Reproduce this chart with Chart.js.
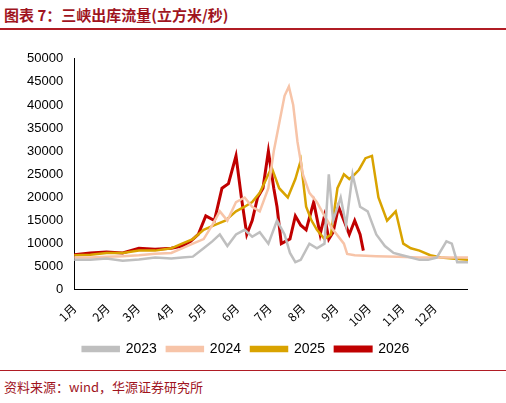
<!DOCTYPE html>
<html><head><meta charset="utf-8">
<script src="https://cdn.jsdelivr.net/npm/chart.js@4"></script>
<style>
body{margin:0;width:506px;height:403px;background:#fff;font-family:"Noto Sans CJK SC",sans-serif;position:relative;overflow:hidden}
#title{position:absolute;left:4px;top:4px;font-size:15px;font-weight:bold;color:#a0141e}
#tl{position:absolute;left:0;top:28px;width:506px;height:2px;background:#b01c24}
#bl{position:absolute;left:0;top:370px;width:506px;height:1px;background:#b01c24}
#src{position:absolute;left:4px;top:377px;font-size:13px;color:#a0141e}
#wrap{position:absolute;left:24px;top:48px;width:444px;height:318px}
</style></head><body>
<div id="title">图表 7：三峡出库流量(立方米/秒)</div><div id="tl"></div>
<div id="wrap"><canvas id="c"></canvas></div>
<div id="bl"></div><div id="src">资料来源：wind，华源证券研究所</div>
<script>
const monthLabels=["1月","2月","3月","4月","5月","6月","7月","8月","9月","10月","11月","12月"];
const monthStarts=[0,31,59,90,120,151,181,212,243,273,304,334];
const d2023=[0,15,30,45,60,75,90,100,110,120,128,135,142,150,158,165,172,180,188,195,200,205,210,218,225,232,236,240,247,252,258,265,272,280,288,296,304,312,320,328,336,345,350,355,365];
const v2023=[6500,6500,6800,6300,6600,7000,6800,7000,7200,9000,10500,12000,9500,12000,13000,11500,12500,10000,15000,12000,8000,6000,6500,10000,9000,10000,25000,15000,20000,14000,25000,18000,17000,12000,9500,8000,7500,7000,6500,6500,7000,10500,10000,6000,6000];
const d2024=[0,15,30,45,60,75,90,100,110,120,128,135,142,150,158,165,172,180,185,190,195,199,203,207,212,218,225,232,240,250,253,260,280,300,320,340,365];
const v2024=[7000,7000,7200,7300,7500,7800,8000,9000,10000,11000,14000,17000,15000,19000,20000,18000,17000,22000,30000,36000,42000,44000,40000,32000,25000,21000,19000,16000,13000,10000,7800,7500,7300,7200,7000,7000,7000];
const d2025=[0,15,30,45,60,75,90,100,110,120,130,140,150,158,165,172,178,183,190,198,205,210,215,220,225,232,238,244,250,255,260,264,270,276,282,290,298,305,312,320,330,340,350,365];
const v2025=[7500,7600,8000,8000,8500,8500,9000,10000,11000,13000,14000,15000,17000,18000,19000,21000,24000,26500,22000,20000,24000,28000,18000,15000,13000,11000,12000,22000,25000,24000,25000,26000,28500,29000,20000,15000,17000,10000,9000,8500,7500,7000,6800,6500];
const d2026=[0,15,30,45,60,75,90,100,108,115,122,130,137,143,150,155,160,165,170,175,180,185,188,192,200,205,210,215,222,228,232,236,240,245,250,255,260,265,268];
const v2026=[7600,8000,8200,8000,9000,8800,9000,9500,10500,12000,16000,15000,22000,23000,29000,20000,12000,15000,20000,22000,30000,22000,18000,10000,11000,16000,14000,13000,19000,12000,16000,11000,12500,18000,15000,12000,15000,12000,8500];
const mk=(d,v)=>d.map((x,i)=>({x,y:v[i]}));
const ds=(l,d,v,c,w)=>({label:l,data:mk(d,v),borderColor:c,backgroundColor:c,borderWidth:w,pointRadius:0,tension:0});
new Chart(document.getElementById('c'),{type:'line',
data:{datasets:[ds('2023',d2023,v2023,'#bfbfbf',2.5),ds('2024',d2024,v2024,'#f7c4a8',2.5),ds('2025',d2025,v2025,'#d9a300',2.5),ds('2026',d2026,v2026,'#c00000',3)]},
options:{animation:false,responsive:true,maintainAspectRatio:false,
plugins:{legend:{position:'bottom',labels:{boxWidth:36,boxHeight:4,font:{size:14,family:'Arial'},color:'#000'}}},
scales:{x:{type:'linear',min:0,max:365,grid:{display:false},border:{color:'#000'},
afterBuildTicks:a=>{a.ticks=monthStarts.map(v=>({value:v}));},
ticks:{autoSkip:false,minRotation:45,maxRotation:45,font:{size:12,family:'Noto Sans CJK SC'},color:'#000',callback:v=>monthLabels[monthStarts.indexOf(v)]}},
y:{min:0,max:50000,grid:{display:false},border:{color:'#000'},ticks:{stepSize:5000,font:{size:13,family:'Arial'},color:'#000',callback:v=>String(v)}}}}});
</script></body></html>
